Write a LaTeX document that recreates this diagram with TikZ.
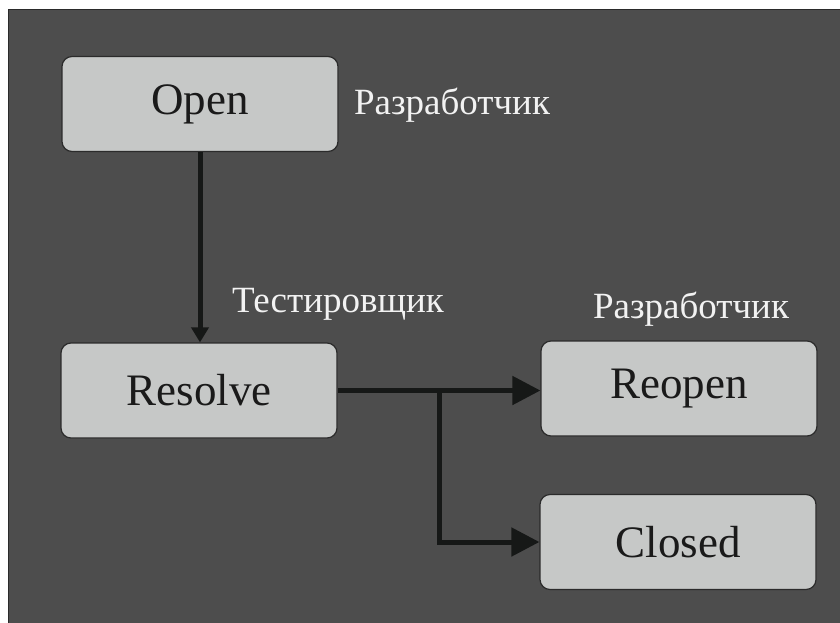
\documentclass[tikz,border=0pt]{standalone}
\usepackage{fontspec}
\setmainfont{Liberation Serif}
\usetikzlibrary{arrows.meta,calc}
\definecolor{bgdark}{HTML}{4D4D4D}
\definecolor{bgline}{HTML}{2A2A2A}
\definecolor{boxfill}{HTML}{C6C8C7}
\definecolor{boxline}{HTML}{2B2B2B}
\definecolor{arrowcol}{HTML}{161817}
\definecolor{boxtext}{HTML}{1A1A1A}
\definecolor{labtext}{HTML}{F2F2F2}
\tikzset{
  statebox/.style={draw=boxline, line width=1.2pt, fill=boxfill, rounded corners=10pt,
    minimum width=276pt, minimum height=95pt, inner sep=0pt, text=boxtext,
    font=\fontsize{45}{50}\selectfont},
  rolelabel/.style={text=labtext, anchor=base, inner sep=0pt, font=\fontsize{37}{42}\selectfont},
  conn/.style={draw=arrowcol, line width=5pt},
}
\begin{document}
\begin{tikzpicture}[x=1pt,y=-1pt]
\useasboundingbox (0,0) rectangle (840,623);
\fill[white] (0,0) rectangle (840,623);
\filldraw[fill=bgdark, draw=bgline, line width=1pt] (8.5,9.5) rectangle (842,626);
\node[statebox] (open) at (200,104) {Open};
\node[statebox] (resolve) at (199,390.5) {Resolve};
\node[statebox] (reopen) at (679,388.5) {Reopen};
\node[statebox] (closed) at (678,542) {Closed};
\node[rolelabel] (l1) at (452,115) {Разработчик};
\node[rolelabel] (l2) at (338,312) {Тестировщик};
\node[rolelabel] (l3) at (691,318) {Разработчик};
\draw[conn, -{Triangle[length=15pt,width=17pt]}] (open.south) -- (open.south |- resolve.north);
\coordinate (br) at ($(resolve.east)!0.5!(resolve.east -| reopen.west)$);
\draw[conn, -{Triangle[length=28pt,width=28pt]}] (resolve.east) -- (resolve.east -| reopen.west);
\draw[conn, -{Triangle[length=28pt,width=28pt]}] (br) |- (closed.west);
\end{tikzpicture}
\end{document}
